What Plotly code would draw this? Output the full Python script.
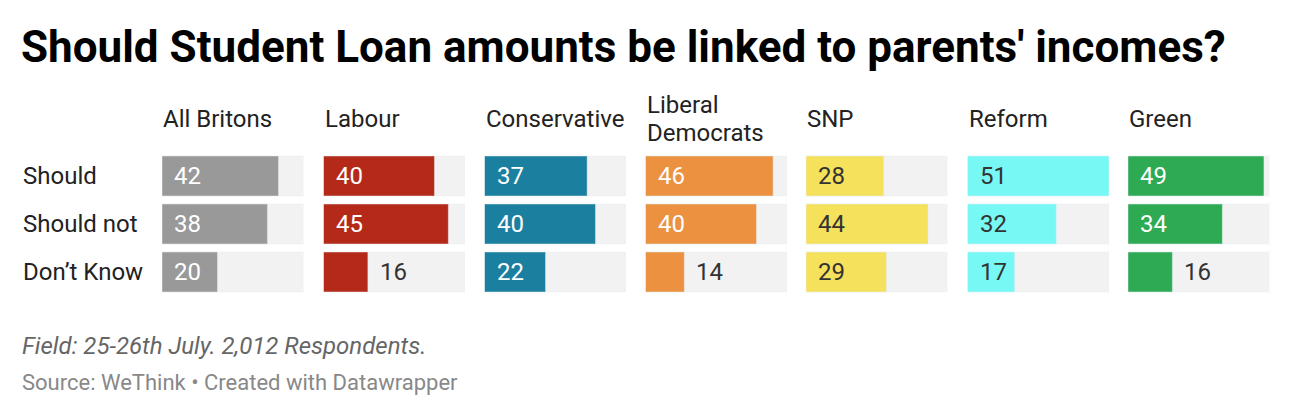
import plotly.graph_objects as go

# data
answers = ["Should", "Should not", "Don’t Know"]
groups = ["All Britons", "Labour", "Conservative", "Liberal<br>Democrats", "SNP", "Reform", "Green"]
all_britons = [42, 38, 20]
labour = [40, 45, 16]
conservative = [37, 40, 22]
lib_dem = [46, 40, 14]
snp = [28, 44, 29]
reform = [51, 32, 17]
green = [49, 34, 16]

values = [all_britons, labour, conservative, lib_dem, snp, reform, green]
colors = ["#999999", "#b52919", "#1b7fa0", "#ec9140", "#f5e15b", "#78f8f4", "#2eaa52"]
label_colors = ["#ffffff", "#ffffff", "#ffffff", "#ffffff", "#333333", "#333333", "#ffffff"]

W, H = 1300, 416
OFF = 8  # page body margin
FONT = "Roboto"
x_max = max(max(v) for v in values)


def px(x):
    return (x - OFF) / W


def py(y):
    return 1 - (y - OFF) / H


panel_left = [162, 323.5, 484.5, 645.5, 806, 967.5, 1128]
panel_w = 141.5
plot_top, plot_bottom = 152, 296

fig = go.Figure()
annotations = []

for i, (name, vals) in enumerate(zip(groups, values)):
    ax = "x" if i == 0 else f"x{i + 1}"
    fig.add_trace(go.Bar(x = [x_max] * len(answers), y = answers, orientation = "h",
                         marker = {"color": "#f2f2f2"}, xaxis = ax, yaxis = "y",
                         hoverinfo = "skip", showlegend = False))
    fig.add_trace(go.Bar(x = vals, y = answers, orientation = "h",
                         marker = {"color": colors[i]}, xaxis = ax, yaxis = "y",
                         hoverinfo = "skip", showlegend = False))
    layout_key = "xaxis" if i == 0 else f"xaxis{i + 1}"
    fig.layout[layout_key] = dict(domain = [px(panel_left[i]), px(panel_left[i] + panel_w)],
                                  range = [0, x_max], visible = False, anchor = "y", fixedrange = True)

    for ans, v in zip(answers, vals):
        outside = v < 17
        annotations.append(dict(xref = ax, yref = "y", x = v if outside else 0, y = ans,
                                text = str(v), showarrow = False, xanchor = "left", xshift = 10,
                                font = dict(family = FONT, size = 24,
                                            color = "#333333" if outside else label_colors[i])))

    # column header, lines centred around y=118
    lines = name.split("<br>")
    for k, line in enumerate(lines):
        yc = 118 + (k - (len(lines) - 1) / 2) * 28
        annotations.append(dict(xref = "paper", yref = "paper", x = px(panel_left[i] - 1), y = py(yc + 1),
                                text = line, showarrow = False, xanchor = "left", yanchor = "middle",
                                font = dict(family = FONT, size = 24, color = "#222222")))

for ans in answers:
    annotations.append(dict(xref = "paper", yref = "y", x = px(21), y = ans, text = ans,
                            showarrow = False, xanchor = "left",
                            font = dict(family = FONT, size = 24, color = "#222222")))

annotations.append(dict(xref = "paper", yref = "paper", x = px(19), y = py(47),
                        text = "<b>Should Student Loan amounts be linked to parents' incomes?</b>",
                        showarrow = False, xanchor = "left", yanchor = "middle",
                        font = dict(family = FONT, size = 44, color = "#000000")))
annotations.append(dict(xref = "paper", yref = "paper", x = px(20), y = py(346),
                        text = "<i>Field: 25-26th July. 2,012 Respondents.</i>",
                        showarrow = False, xanchor = "left", yanchor = "middle",
                        font = dict(family = FONT, size = 24, color = "#666666")))
annotations.append(dict(xref = "paper", yref = "paper", x = px(20), y = py(382),
                        text = "Source: WeThink • Created with Datawrapper",
                        showarrow = False, xanchor = "left", yanchor = "middle",
                        font = dict(family = FONT, size = 22, color = "#888888")))

fig.update_layout(
    width = W, height = H,
    margin = dict(l = 0, r = 0, t = 0, b = 0),
    paper_bgcolor = "white", plot_bgcolor = "white",
    barmode = "overlay", bargap = 1 / 6,
    yaxis = dict(domain = [py(plot_bottom), py(plot_top)], type = "category",
                 categoryorder = "array", categoryarray = answers, autorange = "reversed",
                 visible = False, fixedrange = True),
    annotations = annotations,
)

fig.write_html("out.html")
